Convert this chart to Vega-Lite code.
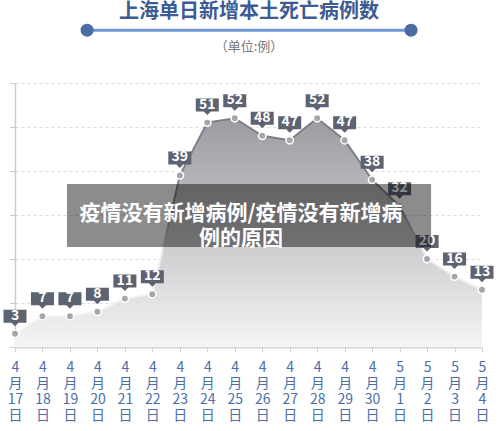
{
  "$schema": "https://vega.github.io/schema/vega-lite/v6.json",
  "autosize": {"type": "none"},
  "width": 467,
  "height": 264,
  "padding": {"left": 15, "top": 83, "right": 18, "bottom": 84},
  "background": "#ffffff",
  "config": {
    "font": "Noto Sans CJK SC",
    "view": {"stroke": null}
  },
  "datasets": {
    "deaths": [
      {"date": "2022-04-17", "value": 3},
      {"date": "2022-04-18", "value": 7},
      {"date": "2022-04-19", "value": 7},
      {"date": "2022-04-20", "value": 8},
      {"date": "2022-04-21", "value": 11},
      {"date": "2022-04-22", "value": 12},
      {"date": "2022-04-23", "value": 39},
      {"date": "2022-04-24", "value": 51},
      {"date": "2022-04-25", "value": 52},
      {"date": "2022-04-26", "value": 48},
      {"date": "2022-04-27", "value": 47},
      {"date": "2022-04-28", "value": 52},
      {"date": "2022-04-29", "value": 47},
      {"date": "2022-04-30", "value": 38},
      {"date": "2022-05-01", "value": 32},
      {"date": "2022-05-02", "value": 20},
      {"date": "2022-05-03", "value": 16},
      {"date": "2022-05-04", "value": 13}
    ],
    "single": [{}]
  },
  "data": {"name": "deaths"},
  "layer": [
    {
      "mark": {
        "type": "area",
        "fill": {
          "gradient": "linear",
          "x1": 0, "y1": 0, "x2": 0, "y2": 1,
          "stops": [
            {"offset": 0, "color": "#9b9ba1"},
            {"offset": 1, "color": "#f5f5f6"}
          ]
        }
      },
      "encoding": {
        "x": {
          "field": "date",
          "type": "temporal",
          "scale": {"type": "utc", "nice": false},
          "axis": {
            "title": null,
            "grid": false,
            "tickCount": {"interval": "day", "step": 1},
            "labelExpr": "[utcFormat(datum.value, '%-m'), '月', utcFormat(datum.value, '%-d'), '日']",
            "labelAngle": 0,
            "labelAlign": "center",
            "labelBaseline": "top",
            "labelFlush": false,
            "labelBound": false,
            "labelOverlap": false,
            "labelFontSize": 14,
            "labelLineHeight": 16,
            "labelColor": "#4b6ea8",
            "labelPadding": 8,
            "domainColor": "#d6d6d6",
            "domainWidth": 2,
            "tickColor": "#cfcfcf",
            "tickSize": 5
          }
        },
        "y": {
          "field": "value",
          "type": "quantitative",
          "scale": {"domain": [0, 60], "nice": false},
          "axis": {
            "title": null,
            "labels": false,
            "values": [0, 10, 20, 30, 40, 50, 60],
            "grid": true,
            "gridDash": [3, 3],
            "gridColor": "#dcdcdc",
            "domainColor": "#cdcdcd",
            "domainWidth": 1.5,
            "tickColor": "#c8c8c8",
            "tickSize": 5
          }
        }
      }
    },
    {
      "mark": {
        "type": "line",
        "strokeWidth": 2,
        "stroke": {
          "gradient": "linear",
          "x1": 0, "y1": 0, "x2": 0, "y2": 1,
          "stops": [
            {"offset": 0, "color": "#7c7c84"},
            {"offset": 0.42, "color": "#85858c"},
            {"offset": 0.62, "color": "#ececee"},
            {"offset": 1, "color": "#f4f4f4"}
          ]
        }
      },
      "encoding": {
        "x": {"field": "date", "type": "temporal"},
        "y": {"field": "value", "type": "quantitative"}
      }
    },
    {
      "mark": {
        "type": "point",
        "filled": true,
        "size": 55,
        "fill": "#a6a6ac",
        "stroke": "#ffffff",
        "strokeWidth": 1.5,
        "opacity": 1
      },
      "encoding": {
        "x": {"field": "date", "type": "temporal"},
        "y": {"field": "value", "type": "quantitative"}
      }
    },
    {
      "mark": {
        "type": "point",
        "shape": "M-1,-2.087L1,-2.087L1,-0.957L0.3,-0.957L0,-0.652L-0.3,-0.957L-1,-0.957Z",
        "filled": true,
        "size": 529,
        "color": "#5d6371",
        "opacity": 1
      },
      "encoding": {
        "x": {"field": "date", "type": "temporal"},
        "y": {"field": "value", "type": "quantitative"}
      }
    },
    {
      "mark": {
        "type": "text",
        "color": "#ffffff",
        "fontSize": 14,
        "fontWeight": "bold",
        "align": "center",
        "baseline": "middle",
        "yOffset": -18
      },
      "encoding": {
        "x": {"field": "date", "type": "temporal"},
        "y": {"field": "value", "type": "quantitative"},
        "text": {"field": "value", "type": "quantitative"}
      }
    },
    {
      "data": {"name": "single"},
      "mark": {
        "type": "text",
        "text": "上海单日新增本土死亡病例数",
        "color": "#3d5b93",
        "fontSize": 20,
        "fontWeight": "bold",
        "align": "center",
        "baseline": "middle"
      },
      "encoding": {
        "x": {"datum": {"year": 2022, "month": 4, "date": 25, "hours": 12, "minutes": 30, "utc": true}, "type": "temporal"},
        "y": {"datum": 76.1, "type": "quantitative"}
      }
    },
    {
      "data": {"name": "single"},
      "mark": {
        "type": "text",
        "text": "（单位:例）",
        "color": "#777777",
        "fontSize": 13,
        "align": "center",
        "baseline": "middle"
      },
      "encoding": {
        "x": {"datum": {"year": 2022, "month": 4, "date": 25, "hours": 12, "minutes": 30, "utc": true}, "type": "temporal"},
        "y": {"datum": 68.1, "type": "quantitative"}
      }
    },
    {
      "data": {"name": "single"},
      "mark": {"type": "rule", "stroke": "#6f98d4", "strokeWidth": 3},
      "encoding": {
        "x": {"datum": {"year": 2022, "month": 4, "date": 19, "hours": 15, "utc": true}, "type": "temporal"},
        "x2": {"datum": {"year": 2022, "month": 5, "date": 1, "hours": 10, "utc": true}},
        "y": {"datum": 72, "type": "quantitative"}
      }
    },
    {
      "data": {"name": "single"},
      "mark": {"type": "point", "filled": true, "size": 170, "color": "#4d6ca2", "opacity": 1},
      "encoding": {
        "x": {"datum": {"year": 2022, "month": 4, "date": 19, "hours": 15, "utc": true}, "type": "temporal"},
        "y": {"datum": 72, "type": "quantitative"}
      }
    },
    {
      "data": {"name": "single"},
      "mark": {"type": "point", "filled": true, "size": 170, "color": "#4d6ca2", "opacity": 1},
      "encoding": {
        "x": {"datum": {"year": 2022, "month": 5, "date": 1, "hours": 10, "utc": true}, "type": "temporal"},
        "y": {"datum": 72, "type": "quantitative"}
      }
    },
    {
      "data": {"name": "single"},
      "mark": {"type": "rect", "fill": "#000000", "fillOpacity": 0.45, "strokeWidth": 0},
      "encoding": {
        "x": {"datum": {"year": 2022, "month": 4, "date": 18, "hours": 21, "minutes": 24, "utc": true}, "type": "temporal"},
        "x2": {"datum": {"year": 2022, "month": 5, "date": 2, "hours": 3, "minutes": 30, "utc": true}},
        "y": {"datum": 37.05, "type": "quantitative"},
        "y2": {"datum": 22.7}
      }
    },
    {
      "data": {"name": "single"},
      "mark": {
        "type": "text",
        "text": ["疫情没有新增病例/疫情没有新增病", "例的原因"],
        "color": "#ffffff",
        "fontSize": 21,
        "fontWeight": "bold",
        "lineHeight": 25,
        "align": "center",
        "baseline": "middle"
      },
      "encoding": {
        "x": {"datum": {"year": 2022, "month": 4, "date": 25, "hours": 5, "minutes": 30, "utc": true}, "type": "temporal"},
        "y": {"datum": 30.3, "type": "quantitative"}
      }
    }
  ]
}
